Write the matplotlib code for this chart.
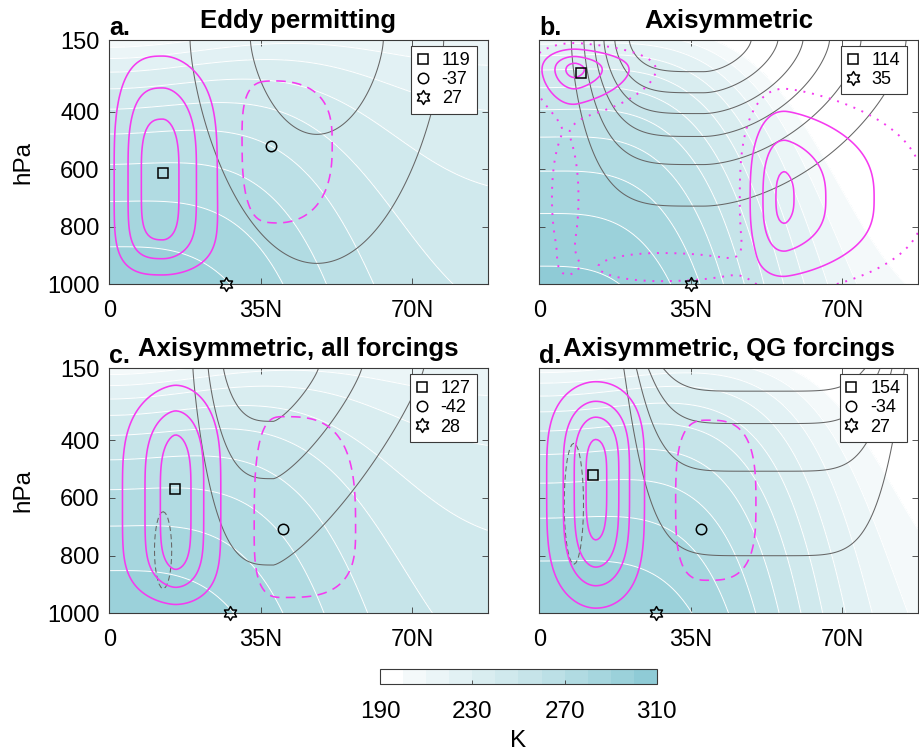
import numpy as np
import matplotlib
matplotlib.use('Agg')
import matplotlib.pyplot as plt
from matplotlib.path import Path

plt.rcParams['font.family'] = ['Liberation Sans', 'DejaVu Sans']

# ---------------- data ----------------
panel_letters = ['a.', 'b.', 'c.', 'd.']
panel_titles = ['Eddy permitting', 'Axisymmetric',
                'Axisymmetric, all forcings', 'Axisymmetric, QG forcings']
lat_ticks = [0, 35, 70]
lat_ticklabels = ['0', '35N', '70N']
p_ticks = [150, 400, 600, 800, 1000]
temp_levels = list(range(190, 311, 10))
cbar_ticks = [190, 230, 270, 310]
lat_max = 87.5

# extremum markers
max_lat = [12.4, 9.6, 15.3, 12.5]
max_p = [614, 266, 568, 519]
max_val = [119, 114, 127, 154]
min_lat = [37.3, None, 40.2, 37.5]
min_p = [518, None, 709, 709]
min_val = [-37, None, -42, -34]
star_lat = [27, 35, 28, 27]

# temperature structure: T_sfc eq, T_sfc pole, width, shape, lapse eq, lapse pole, width, shape
temp_a = [297, 247, 55, 2.8, 50, 19, 45, 2.0]
temp_b = [303, 195, 59, 3.1, 46, 37, 35, 2.0]
temp_c = [298, 245, 55, 2.8, 50, 18, 45, 2.0]
temp_d = [300, 200, 67.2, 3.5, 50, 22, 50, 2.0]

# circulation cells: lat, hPa, half-widths (left, right, top, bottom), shapes (l, r, t, b), peak
psi_a = [[12.4, 614, 9.2, 9.5, 337, 318, 2.86, 1.86, 3.02, 5.5, 119],
         [37.3, 518, 8.7, 17.3, 266, 328, 3, 2.5, 3, 2.5, -37]]
psi_b = [[8.3, 255, 5.8, 8.5, 57.5, 83, 2, 1.45, 2.33, 1.7, 114],
         [56.8, 700, 6.4, 14, 247, 222, 2.3, 1.35, 2.6, 2.77, 108],
         [28, 940, 16, 22, 55, 55, 2, 2, 2, 2, 11],
         [6, 700, 4, 4, 280, 280, 2, 2, 2, 2, 9]]
psi_c = [[15.3, 590, 8.4, 7.6, 318, 338, 1.63, 1.91, 3.4, 5.3, 127],
         [40.2, 709, 7.5, 18.5, 432, 261, 3, 3, 3, 3, -42]]
psi_d = [[13, 540, 7.7, 8.1, 280, 370, 1.87, 2.07, 3.5, 4, 154],
         [39, 620, 9.4, 13.7, 358, 328, 3, 3, 3, 3, -34]]
psi_levels = [-20, 20, 60, 100, 140]
psi_dotted = [[], [5], [], []]

# zonal wind structures (same layout as cells)
u_a = [[48, 150, 30, 30, 801, 801, 2, 2, 1.5, 1.5, 26]]
u_b = [[38, 150, 26.3, 32, 374, 374, 4.4, 1.75, 1.53, 1.53, 70]]
u_c = [[38, 150, 16.9, 27, 520, 520, 3.3, 1.3, 1.2, 1.2, 40],
       [12.5, 780, 3, 3, 200, 200, 2, 2, 2, 2, -16]]
u_d = [[52, 150, 30, 30, 392, 392, 6, 6, 0.94, 0.94, 50],
       [8, 620, 3.5, 3.5, 330, 330, 2, 2, 2, 2, -15]]
u_levels = [[10, 20], [10, 20, 30, 40, 50, 60], [-10, 10, 20, 30], [-10, 10, 20, 30, 40]]

temps = [temp_a, temp_b, temp_c, temp_d]
psis = [psi_a, psi_b, psi_c, psi_d]
us = [u_a, u_b, u_c, u_d]

# ---------------- styles ----------------
band_colors = ['#FFFFFF', '#F4F9FA', '#EBF5F7', '#E2F1F4', '#D9EDF0', '#D0E9ED',
               '#C6E4E9', '#BCE0E6', '#B1DBE2', '#A6D6DE', '#9BD1DA', '#8FCBD6']
magenta = '#F53AF0'
grayc = '#666666'
spine_c = '#3A3A3A'
TICK_FS = 17
TITLE_FS = 18.5

hexagram = Path.unit_regular_star(6, 0.5774)


def blob_field(LAT, P, prm):
    xc, pc, sxl, sxr, spt, spb, qxl, qxr, qpt, qpb, amp = prm
    dx = LAT - xc
    dp = P - pc
    sx = np.where(dx < 0, sxl, sxr)
    qx = np.where(dx < 0, qxl, qxr)
    sp = np.where(dp < 0, spt, spb)
    qp = np.where(dp < 0, qpt, qpb)
    return amp * np.exp(-(np.abs(dx) / sx) ** qx - (np.abs(dp) / sp) ** qp)


def temp_field(LAT, P, prm):
    Te, Tp, w, n, Ge, Gp, wg, ng = prm
    Ts = Tp + (Te - Tp) * np.exp(-(LAT / w) ** n)
    G = Gp + (Ge - Gp) * np.exp(-(LAT / wg) ** ng)
    return Ts - G * np.log(1000.0 / P)


lat = np.linspace(0, lat_max, 176)
pres = np.linspace(150, 1000, 171)
LAT, P = np.meshgrid(lat, pres)

fig = plt.figure(figsize=(9.19, 7.52), dpi=100)
rects = [[0.1189, 0.6219, 0.4118, 0.3249],
         [0.5868, 0.6219, 0.4118, 0.3249],
         [0.1189, 0.1845, 0.4118, 0.3258],
         [0.5868, 0.1845, 0.4118, 0.3258]]

cf_ref = None
for i in range(4):
    ax = fig.add_axes(rects[i])
    T = np.clip(temp_field(LAT, P, temps[i]), 190.01, 309.99)
    cf = ax.contourf(LAT, P, T, levels=temp_levels, colors=band_colors)
    if cf_ref is None:
        cf_ref = cf
    ax.contour(LAT, P, T, levels=temp_levels[1:], colors='white', linewidths=0.7)

    U = sum(blob_field(LAT, P, b) for b in us[i])
    ax.contour(LAT, P, U, levels=u_levels[i], colors=grayc, linewidths=0.75,
               linestyles=[(0, (5, 3)) if l < 0 else '-' for l in u_levels[i]])

    PSI = sum(blob_field(LAT, P, b) for b in psis[i])
    ax.contour(LAT, P, PSI, levels=[l for l in psi_levels if l > 0], colors=magenta,
               linewidths=1.15)
    ax.contour(LAT, P, PSI, levels=[l for l in psi_levels if l < 0], colors=magenta,
               linewidths=1.15, linestyles=[(0, (6, 4))])
    if psi_dotted[i]:
        ax.contour(LAT, P, PSI, levels=psi_dotted[i], colors=magenta,
                   linewidths=1.4, linestyles=[(0, (1, 3.5))])

    handles, labels = [], []
    h = ax.plot([max_lat[i]], [max_p[i]], linestyle='none', marker='s', ms=6.5,
                mfc='none', mec='black', mew=1.1, zorder=5)[0]
    handles.append(h); labels.append(str(max_val[i]))
    if min_lat[i] is not None:
        h = ax.plot([min_lat[i]], [min_p[i]], linestyle='none', marker='o', ms=7.5,
                    mfc='none', mec='black', mew=1.1, zorder=5)[0]
        handles.append(h); labels.append(str(min_val[i]))
    h = ax.plot([star_lat[i]], [1000], linestyle='none', marker=hexagram, ms=10,
                mfc='none', mec='black', mew=1.1, zorder=6, clip_on=False)[0]
    handles.append(h); labels.append(str(star_lat[i]))

    leg = ax.legend(handles, labels, loc='upper right', bbox_to_anchor=(0.971, 0.977),
                    borderaxespad=0, fontsize=13, fancybox=False, framealpha=1,
                    edgecolor=spine_c, handlelength=0.6, handletextpad=0.75,
                    labelspacing=0.12, borderpad=0.35)
    leg.get_frame().set_linewidth(0.8)

    ax.set_xlim(0, lat_max)
    ax.set_ylim(1000, 150)
    ax.set_xticks(lat_ticks)
    ax.set_xticklabels(lat_ticklabels)
    ax.set_yticks(p_ticks)
    ax.tick_params(direction='in', top=True, right=True, length=4, width=0.6,
                   colors=spine_c, labelcolor='black', labelsize=TICK_FS)
    ax.tick_params(axis='x', pad=11)
    ax.tick_params(axis='y', pad=7)
    if i % 2 == 0:
        ax.set_ylabel('hPa', fontsize=TICK_FS + 0.5, labelpad=9)
    else:
        ax.set_yticklabels([])
    for s in ax.spines.values():
        s.set_color(spine_c)
        s.set_linewidth(0.8)

    ax.text(0.0, 1.02, panel_letters[i], transform=ax.transAxes, ha='left',
            va='baseline', fontsize=18, fontweight='bold')
    ax.text(0.5, 1.049, panel_titles[i], transform=ax.transAxes, ha='center',
            va='baseline', fontsize=TITLE_FS, fontweight='bold')

cax = fig.add_axes([0.4138, 0.0900, 0.3008, 0.0203])
cb = fig.colorbar(cf_ref, cax=cax, orientation='horizontal', ticks=cbar_ticks)
cb.outline.set_edgecolor(spine_c)
cb.outline.set_linewidth(0.8)
cax.tick_params(direction='in', length=3, width=0.6, colors=spine_c,
                labelcolor='black', labelsize=17.5, pad=12)
cb.set_label('K', fontsize=17.5, labelpad=5)

fig.savefig('out.png', dpi=100)
